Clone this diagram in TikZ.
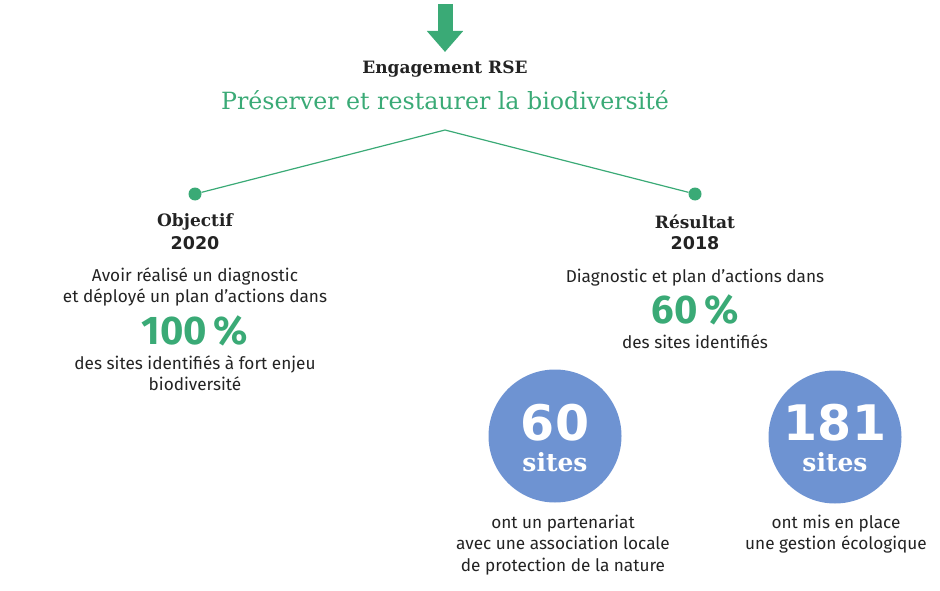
\documentclass[tikz,border=0pt]{standalone}
\usepackage{fontspec}
\setmainfont{Fira Sans}
\newfontfamily\slab{DejaVu Serif}
\newfontfamily\heavy{DejaVu Sans}
\usetikzlibrary{arrows.meta}
\definecolor{rsegreen}{RGB}{58,170,118}
\definecolor{siteblue}{RGB}{110,147,210}
\definecolor{ink}{RGB}{35,35,35}

\begin{document}
\begin{tikzpicture}[x=1pt,y=-1pt,
  body/.style={text=ink, align=center, inner sep=0pt, font=\fontsize{17.2}{21.5}\selectfont},
  label/.style={text=ink, inner sep=0pt, font=\fontsize{17}{18}\selectfont\slab\bfseries},
  year/.style={text=ink, inner sep=0pt, font=\fontsize{17.5}{18}\selectfont\heavy\bfseries},
  percent/.style={text=rsegreen, inner sep=0pt, font=\fontsize{40}{42}\selectfont\bfseries},
  dot/.style={circle, fill=rsegreen, inner sep=0pt, minimum size=13pt},
  blob/.style={circle, fill=siteblue, inner sep=0pt, minimum size=133pt},
  bignum/.style={text=white, inner sep=0pt, font=\fontsize{49}{50}\selectfont\heavy\bfseries},
  sitesword/.style={text=white, inner sep=0pt, font=\fontsize{25}{26}\selectfont\slab\bfseries}]
 \useasboundingbox (0,0) rectangle (940,591);
 % top
 \coordinate (arrowtop) at (445,4);
 \coordinate (arrowtip) at (445,52);
 \draw[rsegreen, line width=15pt, -{Triangle[width=35pt,length=21pt]}] (arrowtop) -- (arrowtip);
 \node[label] (engagement) at (445,69) {Engagement RSE};
 \node[text=rsegreen, inner sep=0pt, font=\fontsize{23.7}{26}\selectfont\slab] (title) at (445,100)
   {Préserver et restaurer la biodiversité};
 % branches
 \coordinate (apex) at (445,130);
 \node[dot] (objdot) at (195,194) {};
 \node[dot] (resdot) at (695,194) {};
 \draw[rsegreen, line width=1.2pt] (objdot) -- (apex) -- (resdot);
 % left
 \node[label] (objectif) at (195,222) {Objectif};
 \node[year] (y2020) at (195,243) {2020};
 \node[body] (objtext) at (195,287) {Avoir réalisé un diagnostic\\et déployé un plan d’actions dans};
 \node[percent] (p100) at (195,331) {100\,\%};
 \node[body] (objsites) at (195,373) {des sites identifiés à fort enjeu\\biodiversité};
 % right
 \node[label] (resultat) at (695,222) {Résultat};
 \node[year] (y2018) at (695,243) {2018};
 \node[body] (restext) at (695,278) {Diagnostic et plan d’actions dans};
 \node[percent] (p60) at (695,310) {60\,\%};
 \node[body] (ressites) at (695,342) {des sites identifiés};
 % sites
 \node[blob] (blobA) at (555,436) {};
 \node[bignum] (numA) at (555,423) {60};
 \node[sitesword] (sitesA) at (555,462) {sites};
 \node[body] (textA) at (563,545) {ont un partenariat\\avec une association locale\\de protection de la nature};
 \node[blob] (blobB) at (835,437) {};
 \node[bignum] (numB) at (835,423) {181};
 \node[sitesword] (sitesB) at (835,462) {sites};
 \node[body] (textB) at (836,534) {ont mis en place\\une gestion écologique};
\end{tikzpicture}
\end{document}
